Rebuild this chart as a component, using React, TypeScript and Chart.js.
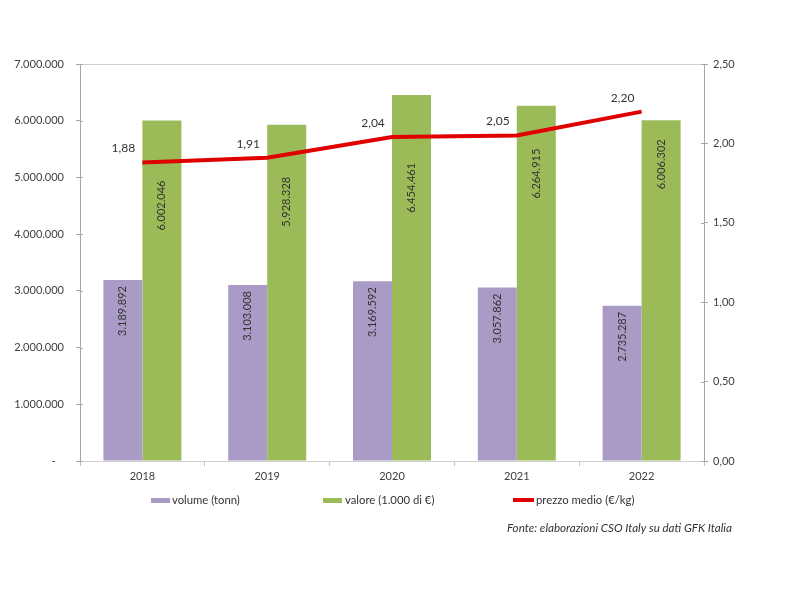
import { useEffect, useRef } from 'react';
import { Chart, registerables } from 'chart.js';

Chart.register(...registerables);

const categories = ['2018', '2019', '2020', '2021', '2022'];
const volume = [3189892, 3103008, 3169592, 3057862, 2735287];
const valore = [6002046, 5928328, 6454461, 6264915, 6006302];
const prezzo = [1.88, 1.91, 2.04, 2.05, 2.2];

const seriesNames = ['volume (tonn)', 'valore (1.000 di €)', 'prezzo medio (€/kg)'];
const sourceNote = 'Fonte: elaborazioni CSO Italy su dati GFK Italia';

const PURPLE = '#A99BC6';
const GREEN = '#9BBB59';
const RED = '#E00000';
const FONT = 'Lato, "Noto Sans", sans-serif';

const fmtThousands = (v: number) =>
  Math.round(v)
    .toString()
    .replace(/\B(?=(\d{3})+(?!\d))/g, '.');
const fmtDec = (v: number) => v.toFixed(2).replace('.', ',');

const decorPlugin = {
  id: 'decor',
  beforeDatasetsDraw(chart: any) {
    const { ctx, chartArea } = chart;
    ctx.save();
    ctx.strokeStyle = '#D0D0D0';
    ctx.lineWidth = 1;
    ctx.beginPath();
    ctx.moveTo(chartArea.left, chartArea.top + 0.5);
    ctx.lineTo(chartArea.right, chartArea.top + 0.5);
    ctx.stroke();
    ctx.strokeStyle = '#A6A6A6';
    const y = chart.scales.y;
    y.ticks.forEach((t: any) => {
      const py = Math.round(y.getPixelForValue(t.value)) + 0.5;
      ctx.beginPath();
      ctx.moveTo(chartArea.left, py);
      ctx.lineTo(chartArea.left + 3, py);
      ctx.stroke();
    });
    const y1 = chart.scales.y1;
    y1.ticks.forEach((t: any) => {
      const py = Math.round(y1.getPixelForValue(t.value)) + 0.5;
      ctx.beginPath();
      ctx.moveTo(chartArea.right - 3, py);
      ctx.lineTo(chartArea.right, py);
      ctx.stroke();
    });
    ctx.restore();
  },
  afterDatasetsDraw(chart: any, _args: any, opts: any) {
    const { ctx } = chart;
    ctx.save();
    ctx.font = `11px ${FONT}`;
    ctx.fillStyle = '#333333';
    [1, 2].forEach((di) => {
      const meta = chart.getDatasetMeta(di);
      const data = chart.data.datasets[di].data as number[];
      meta.data.forEach((el: any, i: number) => {
        const gap = di === 1 ? opts.volumeGap : opts.valoreGap[i];
        ctx.save();
        ctx.translate(el.x, el.y + gap);
        ctx.rotate(-Math.PI / 2);
        ctx.textAlign = 'right';
        ctx.textBaseline = 'middle';
        ctx.fillText(fmtThousands(data[i]), 0, 0);
        ctx.restore();
      });
    });
    const lm = chart.getDatasetMeta(0);
    const ld = chart.data.datasets[0].data as number[];
    ctx.font = `12px ${FONT}`;
    ctx.textAlign = 'center';
    ctx.textBaseline = 'middle';
    lm.data.forEach((el: any, i: number) => {
      ctx.fillText(fmtDec(ld[i]), el.x - 19, el.y - 14);
    });
    ctx.restore();
  },
  afterDraw(chart: any) {
    const { ctx } = chart;
    ctx.save();
    ctx.font = `11.3px ${FONT}`;
    ctx.textBaseline = 'middle';
    ctx.textAlign = 'left';
    ctx.fillStyle = PURPLE;
    ctx.fillRect(151, 498, 19, 5);
    ctx.fillStyle = '#333333';
    ctx.fillText(seriesNames[0], 172, 500);
    ctx.fillStyle = GREEN;
    ctx.fillRect(323, 498, 19, 5);
    ctx.fillStyle = '#333333';
    ctx.fillText(seriesNames[1], 345, 500);
    ctx.strokeStyle = RED;
    ctx.lineWidth = 4;
    ctx.beginPath();
    ctx.moveTo(513, 500);
    ctx.lineTo(534, 500);
    ctx.stroke();
    ctx.fillText(seriesNames[2], 536, 500);
    ctx.font = `italic 11.6px ${FONT}`;
    ctx.fillText(sourceNote, 507, 528);
    ctx.restore();
  },
};

export default function App() {
  const ref = useRef<HTMLCanvasElement | null>(null);

  useEffect(() => {
    if (!ref.current) return;
    const tickFont = { family: FONT, size: 11 };
    const chart = new Chart(ref.current, {
      type: 'bar',
      data: {
        labels: categories,
        datasets: [
          {
            type: 'line',
            label: seriesNames[2],
            data: prezzo,
            yAxisID: 'y1',
            borderColor: RED,
            backgroundColor: RED,
            borderWidth: 4,
            pointRadius: 0,
            tension: 0,
            order: 0,
          } as any,
          {
            label: seriesNames[0],
            data: volume,
            yAxisID: 'y',
            backgroundColor: PURPLE,
            barPercentage: 1,
            categoryPercentage: 0.625,
            order: 1,
          },
          {
            label: seriesNames[1],
            data: valore,
            yAxisID: 'y',
            backgroundColor: GREEN,
            barPercentage: 1,
            categoryPercentage: 0.625,
            order: 1,
          },
        ],
      },
      options: {
        responsive: false,
        animation: false,
        layout: { padding: { top: 64, left: 0, right: 0, bottom: 0 } },
        plugins: {
          legend: { display: false },
          tooltip: { enabled: false },
          decor: { volumeGap: 6, valoreGap: [60, 52, 68, 43, 19] },
        } as any,
        scales: {
          x: {
            grid: {
              display: true,
              drawOnChartArea: false,
              offset: true,
              tickLength: 5,
              color: '#BFBFBF',
            },
            border: { color: '#D0D0D0' },
            ticks: { font: tickFont, color: '#404040', padding: 4 },
            afterFit: (s: any) => {
              s.height = 139;
            },
          },
          y: {
            position: 'left',
            min: 0,
            max: 7000000,
            ticks: {
              stepSize: 1000000,
              font: tickFont,
              color: '#404040',
              padding: 12,
              callback: (v: any) => (Number(v) === 0 ? '-   ' : fmtThousands(Number(v))),
            },
            grid: { drawOnChartArea: false, tickLength: 4, color: '#A6A6A6' },
            border: { color: '#A6A6A6' },
            afterFit: (s: any) => {
              s.width = 80;
            },
          },
          y1: {
            position: 'right',
            min: 0,
            max: 2.5,
            ticks: {
              stepSize: 0.5,
              font: tickFont,
              color: '#404040',
              padding: 5,
              callback: (v: any) => fmtDec(Number(v)),
            },
            grid: { drawOnChartArea: false, tickLength: 4, color: '#A6A6A6' },
            border: { color: '#A6A6A6' },
            afterFit: (s: any) => {
              s.width = 96;
            },
          },
        },
      } as any,
      plugins: [decorPlugin],
    });
    return () => chart.destroy();
  }, []);

  return (
    <div style={{ position: 'absolute', left: 0, top: 0, width: 800, height: 600, background: '#fff' }}>
      <canvas ref={ref} width={800} height={600} style={{ width: 800, height: 600, display: 'block' }} />
    </div>
  );
}
